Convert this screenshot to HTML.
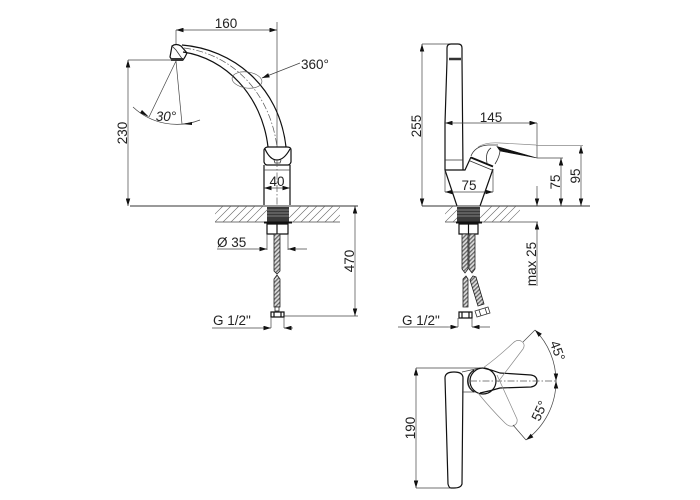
<!DOCTYPE html>
<html><head><meta charset="utf-8"><style>
html,body{margin:0;padding:0;background:#fff}
svg{display:block}
text{font-family:"Liberation Sans",sans-serif;font-size:13.5px;fill:#222}
.d{stroke:#444;stroke-width:.7;fill:none}
.o{stroke:#111;stroke-width:1.2;fill:none}
.m{stroke:#333;stroke-width:.8;fill:none}
.g{stroke:#888;stroke-width:.7;fill:none}
.h{stroke:#666;stroke-width:.6;fill:none}
.c{stroke:#555;stroke-width:.7;fill:none;stroke-dasharray:7 2 1.5 2}
.a{fill:#111;stroke:none}
</style></head><body>
<svg width="700" height="500" viewBox="0 0 700 500" xmlns="http://www.w3.org/2000/svg">
<defs>
<pattern id="br" width="3" height="3" patternUnits="userSpaceOnUse" patternTransform="rotate(45)"><rect width="3" height="3" fill="#ddd"/><rect width="1.300" height="3" fill="#666"/></pattern>
<marker id="ar" viewBox="0 0 10 6" refX="10" refY="3" markerWidth="10" markerHeight="4.500" markerUnits="userSpaceOnUse" orient="auto-start-reverse"><path d="M0 0L10 3L0 6Z" fill="#111"/></marker>
<clipPath id="hl"><rect x="215" y="206" width="52" height="16"/><rect x="289" y="206" width="51" height="16"/></clipPath>
<clipPath id="hr"><rect x="445" y="206" width="12" height="16"/><rect x="480" y="206" width="40" height="16"/></clipPath>
</defs>

<!-- LEFT VIEW -->
<path class="d" d="M176 30V45M277 22V147"/>
<path class="d" d="M176 30H277" marker-start="url(#ar)" marker-end="url(#ar)"/>
<text x="226" y="28" text-anchor="middle">160</text>
<path class="o" d="M182 45C232 49 279 85 286 147M183 52C225 58 262 95 268 147"/>
<path class="c" d="M184 48C232 54 270 92 277 147"/>
<path class="o" d="M172 46L170 57L172 60H183L185 57L187 53L181 46Q176 43 172 46Z"/>
<path class="m" d="M172 46L176 50L183 60"/>
<rect x="171" y="58" width="12" height="3" fill="#333"/>
<ellipse cx="247" cy="80" rx="15" ry="8" transform="rotate(8 247 80)" fill="none" stroke="#666" stroke-width=".7"/>
<path class="d" d="M300 63L262 78" marker-end="url(#ar)"/>
<text x="301" y="69">360°</text>

<path class="d" d="M128 60H175"/>
<path class="d" d="M128 60V206" marker-start="url(#ar)" marker-end="url(#ar)"/>
<text transform="translate(127 133) rotate(-90)" text-anchor="middle">230</text>

<path class="d" d="M176 61L149 117M176 61L182 124"/>
<path class="d" d="M133 107A64 64 0 0 0 200 120"/>
<path class="a" d="M149 117L140 113L142 110ZM182 124L192 122V125Z"/>
<text x="166" y="121" text-anchor="middle" style="font-style:italic">30°</text>

<path class="o" d="M264 150Q265 147 268 147H287Q291 147 291 150V162Q290 165 288 165H267Q265 165 264 162Z"/>
<path class="o" d="M265 149Q270 160 277 160Q284 160 290 149"/>
<path class="m" d="M274 160L275 163H280L281 160"/>
<path class="o" d="M264 165V205M290 165V205"/>
<path class="d" d="M264 170H290"/>
<path class="d" d="M264 188H290" marker-start="url(#ar)" marker-end="url(#ar)"/>
<text x="277" y="186" text-anchor="middle">40</text>
<path class="c" d="M277 160V206"/>

<path d="M130 206H358" stroke="#333" stroke-width=".9" fill="none"/>
<path class="d" d="M215 222H340"/>
<path class="h" clip-path="url(#hl)" d="M207 222L223 206M215 222L231 206M223 222L239 206M231 222L247 206M239 222L255 206M247 222L263 206M255 222L271 206M285 222L301 206M293 222L309 206M301 222L317 206M309 222L325 206M317 222L333 206M325 222L341 206M333 222L349 206"/>
<rect x="267" y="207" width="22" height="15" fill="#3a3a3a"/>
<path d="M267 210H289M267 213H289M267 216H289" stroke="#999" stroke-width=".7"/>
<path d="M264 222.500H292" stroke="#111" stroke-width="2"/>
<path class="o" d="M267 224H288V234H267ZM277 224V234"/>
<path d="M274 234H280V271L277 274L274 271Z" fill="url(#br)" stroke="#222" stroke-width=".8"/>
<path d="M274 279L277 275L280 279V307H274Z" fill="url(#br)" stroke="#222" stroke-width=".8"/>
<rect x="275" y="307" width="4" height="4" fill="#fff" stroke="#222" stroke-width=".8"/>
<path class="o" d="M271 312H284V317H271ZM274 312V317M281 312V317"/>
<path class="d" d="M271 317V328M284 317V328"/>

<path class="d" d="M267 234V250M288 234V250"/>
<path class="d" d="M217 249H257"/>
<path class="d" d="M257 249H267" marker-end="url(#ar)"/>
<path class="d" d="M307 249H288" marker-end="url(#ar)"/>
<text x="217" y="247">Ø 35</text>

<path class="d" d="M212 328H261"/>
<path class="d" d="M261 328H271" marker-end="url(#ar)"/>
<path class="d" d="M293 328H284" marker-end="url(#ar)"/>
<text x="213" y="325">G 1/2"</text>

<path class="d" d="M284 316H358"/>
<path class="d" d="M355 206V316" marker-start="url(#ar)" marker-end="url(#ar)"/>
<text transform="translate(354 261) rotate(-90)" text-anchor="middle">470</text>

<!-- RIGHT VIEW -->
<path class="d" d="M422 44H458"/>
<path class="d" d="M422 44V206" marker-start="url(#ar)" marker-end="url(#ar)"/>
<text transform="translate(421 126) rotate(-90)" text-anchor="middle">255</text>

<path class="o" d="M447 60L445 123V170H465L471 157M463 170L462 60M447 60V48Q447 44 451 44H458Q462 44 462 48V60"/>
<path d="M449 59H461" stroke="#333" stroke-width="2.500"/>
<path class="m" d="M445 160H463"/>
<path class="o" d="M445 170L457 206M493 169L480 206"/>
<path class="m" d="M471 156Q475 146 488 145L498 145"/>
<path class="g" d="M478 147Q486 142 500 143L536 145"/>
<path d="M497 146.500L537 158L500 151Z" fill="#111" stroke="#111" stroke-width=".6"/>
<path class="m" d="M487 163Q485 152 491 148M495 164Q500 156 500 150"/>
<path d="M471 157.500L493 166.500" stroke="#111" stroke-width="1.800"/>
<path class="m" d="M469 160.500L492 170"/>

<path class="d" d="M537 123V158"/>
<path class="d" d="M445 123H537" marker-start="url(#ar)" marker-end="url(#ar)"/>
<text x="491" y="122" text-anchor="middle">145</text>
<path class="d" d="M445 170V192M493 170V192"/>
<path class="d" d="M445 192H493" marker-start="url(#ar)" marker-end="url(#ar)"/>
<text x="469" y="190" text-anchor="middle">75</text>

<path class="d" d="M537 158H563"/>
<path class="d" d="M561 158V206" marker-start="url(#ar)" marker-end="url(#ar)"/>
<text transform="translate(560 182) rotate(-90)" text-anchor="middle">75</text>
<path class="g" d="M536 145.500H583"/>
<path class="d" d="M581 146V206" marker-start="url(#ar)" marker-end="url(#ar)"/>
<text transform="translate(580 176) rotate(-90)" text-anchor="middle">95</text>

<path d="M422 206H590" stroke="#333" stroke-width=".9" fill="none"/>
<path class="d" d="M445 222H538"/>
<path class="h" clip-path="url(#hr)" d="M437 222L453 206M445 222L461 206M453 222L469 206M476 222L492 206M484 222L500 206M492 222L508 206M500 222L516 206M508 222L524 206"/>
<rect x="457" y="207" width="23" height="15" fill="#3a3a3a"/>
<path d="M457 210H480M457 213H480M457 216H480" stroke="#999" stroke-width=".7"/>
<path d="M456 222.500H482" stroke="#111" stroke-width="2"/>
<path class="o" d="M459 224H478V234H459ZM468.500 224V234"/>
<path class="d" d="M537 186V206" marker-end="url(#ar)"/>
<path class="d" d="M537 222V286" marker-start="url(#ar)"/>
<text transform="translate(537 264) rotate(-90)" text-anchor="middle" dy="-1">max 25</text>

<path d="M462 234H468V269L465 273L462 269Z" fill="url(#br)" stroke="#222" stroke-width=".8"/>
<path d="M469 234H475V269L472 273L469 269Z" fill="url(#br)" stroke="#222" stroke-width=".8"/>
<path d="M463 279L466 276L468 279V307H463Z" fill="url(#br)" stroke="#222" stroke-width=".8"/>
<path d="M470 280L473 276L476 277L484 304L478 306Z" fill="url(#br)" stroke="#222" stroke-width=".8"/>
<path class="o" d="M459 312H472V318H459ZM462 312V318M469 312V318"/>
<path class="m" d="M475 311L488 307L490 313L477 317ZM479 310L481 316M485 308L487 314"/>
<path class="d" d="M458 318V327M472 318V327"/>
<path class="d" d="M398 327H448"/>
<path class="d" d="M448 327H458" marker-end="url(#ar)"/>
<path class="d" d="M490 327H472" marker-end="url(#ar)"/>
<text x="402" y="325">G 1/2"</text>

<!-- TOP VIEW -->
<path class="d" d="M416 368H483M416 488H455"/>
<path class="d" d="M416 368V488" marker-start="url(#ar)" marker-end="url(#ar)"/>
<text transform="translate(415 428) rotate(-90)" text-anchor="middle">190</text>

<path class="o" d="M445 378Q445 372 454 372Q463 372 463 378L462 484Q461 488 454 488H451Q449 488 448 484Z"/>
<path class="d" d="M462 372L480 368M462 392L476 392"/>
<path class="o" d="M474 370A13 13 0 0 0 474 392"/>
<path class="m" d="M471 372A13 13 0 0 0 471 390"/>
<circle cx="483" cy="381" r="13" class="o"/>
<path class="o" d="M483 368Q492 370 500 373L531 375Q537 376 537 381Q537 386 531 387L500 388Q490 391 480 393"/>
<path class="c" d="M470 381H556"/>
<path class="g" d="M483 368Q497 358 513 343Q517 339 521 341Q526 344 523 349L498 382M478 393Q490 408 505 423Q509 427 513 426Q518 424 517 419L497 375"/>
<path class="d" d="M523 342L535 330M513 425L526 440"/>
<path class="d" d="M535 330A73 73 0 0 1 556 381" marker-start="url(#ar)" marker-end="url(#ar)"/>
<path class="d" d="M556 381A73 73 0 0 1 526 440" marker-start="url(#ar)" marker-end="url(#ar)"/>
<text transform="translate(557 351) rotate(70)" text-anchor="middle" dy="4">45°</text>
<text transform="translate(540 411) rotate(-65)" text-anchor="middle" dy="4">55°</text>
</svg>
</body></html>
